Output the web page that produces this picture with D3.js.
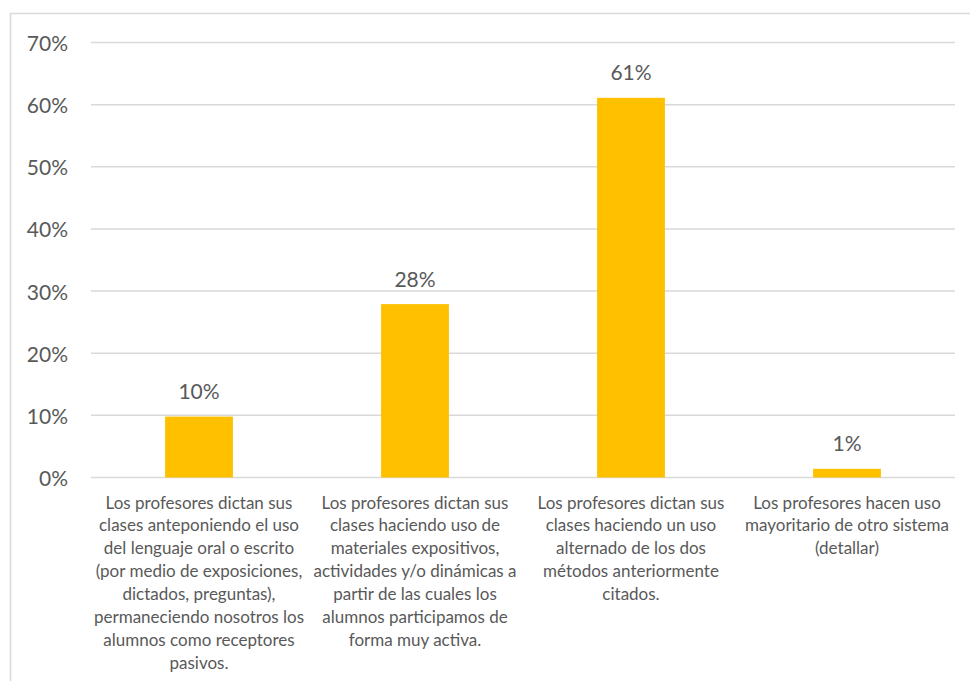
<!DOCTYPE html>
<html>
<head>
<meta charset="utf-8">
<script src="https://cdn.jsdelivr.net/npm/d3@7"></script>
<style>
  body { margin: 0; background: #fff; }
  svg text { font-family: Lato, "Open Sans", sans-serif; fill: #595959; }
</style>
</head>
<body>
<div id="chart"></div>
<script>
// Data
const categories = ['A', 'B', 'C', 'D'];
const values = [0.098, 0.279, 0.611, 0.014];
const valueLabels = ['10%', '28%', '61%', '1%'];
const categoryLines = [
    ['Los profesores dictan sus', 'clases anteponiendo el uso', 'del lenguaje oral o escrito',
     '(por medio de exposiciones,', 'dictados, preguntas),', 'permaneciendo nosotros los',
     'alumnos como receptores', 'pasivos.'],
    ['Los profesores dictan sus', 'clases haciendo uso de', 'materiales expositivos,',
     'actividades y/o dinámicas a', 'partir de las cuales los', 'alumnos participamos de',
     'forma muy activa.'],
    ['Los profesores dictan sus', 'clases haciendo un uso', 'alternado de los dos',
     'métodos anteriormente', 'citados.'],
    ['Los profesores hacen uso', 'mayoritario de otro sistema', '(detallar)']
];
const yTicks = [0, 0.1, 0.2, 0.3, 0.4, 0.5, 0.6, 0.7];

const width = 970, height = 681;
const margin = { top: 42.5, right: 15, bottom: 203.5, left: 91 };

const svg = d3.select('#chart').append('svg')
    .attr('width', width).attr('height', height);

// chart border (left + top only visible)
svg.append('rect')
    .attr('x', 10.5).attr('y', 13.5)
    .attr('width', width + 10).attr('height', height + 10)
    .attr('fill', 'none').attr('stroke', '#d9d9d9').attr('stroke-width', 1.5);

const x = d3.scaleBand()
    .domain(categories)
    .range([margin.left, width - margin.right])
    .paddingInner(0.686).paddingOuter(0.343);

const y = d3.scaleLinear()
    .domain([0, 0.7])
    .range([height - margin.bottom, margin.top]);

// gridlines
svg.append('g').selectAll('line')
    .data(yTicks)
    .join('line')
    .attr('x1', margin.left).attr('x2', width - margin.right)
    .attr('y1', d => y(d)).attr('y2', d => y(d))
    .attr('stroke', '#d9d9d9').attr('stroke-width', 1.5);

// y tick labels
svg.append('g').selectAll('text')
    .data(yTicks)
    .join('text')
    .attr('x', 68).attr('y', d => y(d))
    .attr('text-anchor', 'end').attr('dominant-baseline', 'central')
    .style('font-size', '21px')
    .text(d => d3.format('.0%')(d));

// bars
svg.append('g').selectAll('rect')
    .data(values)
    .join('rect')
    .attr('x', (d, i) => x(categories[i]))
    .attr('width', x.bandwidth())
    .attr('y', d => y(d))
    .attr('height', d => y(0) - y(d))
    .attr('fill', '#ffc000');

// value labels
svg.append('g').selectAll('text')
    .data(values)
    .join('text')
    .attr('x', (d, i) => x(categories[i]) + x.bandwidth() / 2)
    .attr('y', d => y(d) - 26)
    .attr('text-anchor', 'middle').attr('dominant-baseline', 'central')
    .style('font-size', '21px')
    .text((d, i) => valueLabels[i]);

// category labels
const catGroups = svg.append('g').selectAll('text')
    .data(categoryLines)
    .join('text')
    .attr('text-anchor', 'middle')
    .style('font-size', '17px');

catGroups.selectAll('tspan')
    .data((d, i) => d.map(line => ({ line, i })))
    .join('tspan')
    .attr('x', d => x(categories[d.i]) + x.bandwidth() / 2)
    .attr('y', (d, j) => y(0) + 24.5 + j * 22.86)
    .attr('dominant-baseline', 'central')
    .text(d => d.line);
</script>
</body>
</html>
